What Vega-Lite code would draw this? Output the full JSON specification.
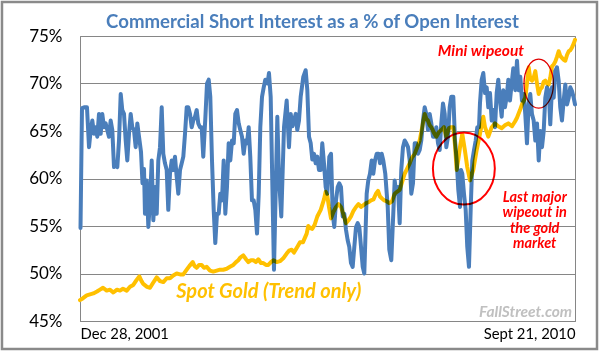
{
"$schema": "https://vega.github.io/schema/vega-lite/v6.json",
"width": 495, "height": 285,
"autosize": {"type": "none"},
"padding": {"left": 80, "top": 36, "right": 25, "bottom": 32},
"background": "white",
"config": {"view": {"stroke": "#868686", "strokeWidth": 1}, "font": "Lato"},
"datasets": {
"one": [{}],
"lines": [
{"series":"short","year":2001.999,"pct":54.8},{"series":"short","year":2002.025,"pct":67.4},{"series":"short","year":2002.073,"pct":67.5},{"series":"short","year":2002.113,"pct":67.5},{"series":"short","year":2002.149,"pct":63.3},{"series":"short","year":2002.179,"pct":65.1},{"series":"short","year":2002.207,"pct":66.1},{"series":"short","year":2002.237,"pct":64.7},{"series":"short","year":2002.267,"pct":65.4},{"series":"short","year":2002.295,"pct":64.4},{"series":"short","year":2002.325,"pct":66.8},{"series":"short","year":2002.355,"pct":64.7},{"series":"short","year":2002.383,"pct":66.8},{"series":"short","year":2002.413,"pct":65.4},{"series":"short","year":2002.443,"pct":65.8},{"series":"short","year":2002.471,"pct":65.1},{"series":"short","year":2002.501,"pct":64.4},{"series":"short","year":2002.531,"pct":66.1},{"series":"short","year":2002.56,"pct":65.1},{"series":"short","year":2002.59,"pct":61.2},{"series":"short","year":2002.62,"pct":61.6},{"series":"short","year":2002.648,"pct":61.2},{"series":"short","year":2002.678,"pct":64.0},{"series":"short","year":2002.708,"pct":68.9},{"series":"short","year":2002.736,"pct":67.2},{"series":"short","year":2002.766,"pct":66.8},{"series":"short","year":2002.796,"pct":64.0},{"series":"short","year":2002.824,"pct":61.9},{"series":"short","year":2002.854,"pct":64.7},{"series":"short","year":2002.884,"pct":66.8},{"series":"short","year":2002.912,"pct":65.4},{"series":"short","year":2002.942,"pct":65.1},{"series":"short","year":2002.972,"pct":63.3},{"series":"short","year":2003.001,"pct":65.8},{"series":"short","year":2003.031,"pct":64.4},{"series":"short","year":2003.066,"pct":62.8},{"series":"short","year":2003.092,"pct":59.5},{"series":"short","year":2003.119,"pct":61.0},{"series":"short","year":2003.136,"pct":56.3},{"series":"short","year":2003.166,"pct":59.8},{"series":"short","year":2003.195,"pct":54.9},{"series":"short","year":2003.225,"pct":57.7},{"series":"short","year":2003.255,"pct":61.9},{"series":"short","year":2003.283,"pct":55.6},{"series":"short","year":2003.313,"pct":59.1},{"series":"short","year":2003.343,"pct":56.3},{"series":"short","year":2003.371,"pct":61.9},{"series":"short","year":2003.401,"pct":63.3},{"series":"short","year":2003.431,"pct":67.5},{"series":"short","year":2003.459,"pct":62.6},{"series":"short","year":2003.489,"pct":61.6},{"series":"short","year":2003.519,"pct":60.9},{"series":"short","year":2003.547,"pct":56.7},{"series":"short","year":2003.577,"pct":60.5},{"series":"short","year":2003.607,"pct":61.9},{"series":"short","year":2003.635,"pct":60.9},{"series":"short","year":2003.665,"pct":62.3},{"series":"short","year":2003.695,"pct":60.2},{"series":"short","year":2003.724,"pct":58.4},{"series":"short","year":2003.754,"pct":60.9},{"series":"short","year":2003.784,"pct":61.6},{"series":"short","year":2003.812,"pct":62.3},{"series":"short","year":2003.842,"pct":64.7},{"series":"short","year":2003.872,"pct":67.5},{"series":"short","year":2003.9,"pct":67.5},{"series":"short","year":2003.93,"pct":66.8},{"series":"short","year":2003.96,"pct":65.4},{"series":"short","year":2003.988,"pct":66.1},{"series":"short","year":2004.018,"pct":66.5},{"series":"short","year":2004.048,"pct":67.2},{"series":"short","year":2004.076,"pct":65.8},{"series":"short","year":2004.106,"pct":65.4},{"series":"short","year":2004.136,"pct":65.4},{"series":"short","year":2004.164,"pct":62.3},{"series":"short","year":2004.2,"pct":66.3},{"series":"short","year":2004.23,"pct":70.0},{"series":"short","year":2004.26,"pct":70.4},{"series":"short","year":2004.288,"pct":68.6},{"series":"short","year":2004.318,"pct":61.9},{"series":"short","year":2004.348,"pct":56.7},{"series":"short","year":2004.376,"pct":53.2},{"series":"short","year":2004.406,"pct":56.3},{"series":"short","year":2004.436,"pct":56.3},{"series":"short","year":2004.464,"pct":58.4},{"series":"short","year":2004.494,"pct":57.7},{"series":"short","year":2004.524,"pct":61.9},{"series":"short","year":2004.553,"pct":56.3},{"series":"short","year":2004.582,"pct":59.1},{"series":"short","year":2004.612,"pct":63.7},{"series":"short","year":2004.641,"pct":61.9},{"series":"short","year":2004.671,"pct":64.0},{"series":"short","year":2004.701,"pct":63.7},{"series":"short","year":2004.729,"pct":66.8},{"series":"short","year":2004.759,"pct":67.2},{"series":"short","year":2004.789,"pct":65.8},{"series":"short","year":2004.817,"pct":65.1},{"series":"short","year":2004.847,"pct":64.4},{"series":"short","year":2004.877,"pct":62.6},{"series":"short","year":2004.905,"pct":64.0},{"series":"short","year":2004.935,"pct":63.7},{"series":"short","year":2004.965,"pct":65.4},{"series":"short","year":2004.993,"pct":62.3},{"series":"short","year":2005.023,"pct":57.7},{"series":"short","year":2005.053,"pct":57.7},{"series":"short","year":2005.082,"pct":56.7},{"series":"short","year":2005.112,"pct":54.2},{"series":"short","year":2005.142,"pct":58.4},{"series":"short","year":2005.17,"pct":65.4},{"series":"short","year":2005.2,"pct":68.6},{"series":"short","year":2005.23,"pct":69.6},{"series":"short","year":2005.258,"pct":70.4},{"series":"short","year":2005.297,"pct":70.0},{"series":"short","year":2005.323,"pct":71.1},{"series":"short","year":2005.353,"pct":68.6},{"series":"short","year":2005.411,"pct":50.4},{"series":"short","year":2005.47,"pct":66.5},{"series":"short","year":2005.5,"pct":60.0},{"series":"short","year":2005.54,"pct":56.0},{"series":"short","year":2005.588,"pct":65.4},{"series":"short","year":2005.635,"pct":68.2},{"series":"short","year":2005.676,"pct":63.3},{"series":"short","year":2005.706,"pct":66.8},{"series":"short","year":2005.738,"pct":65.5},{"series":"short","year":2005.794,"pct":66.8},{"series":"short","year":2005.822,"pct":65.1},{"series":"short","year":2005.852,"pct":66.1},{"series":"short","year":2005.882,"pct":68.6},{"series":"short","year":2005.928,"pct":70.7},{"series":"short","year":2005.97,"pct":71.4},{"series":"short","year":2005.999,"pct":69.3},{"series":"short","year":2006.029,"pct":64.4},{"series":"short","year":2006.059,"pct":63.7},{"series":"short","year":2006.087,"pct":62.0},{"series":"short","year":2006.117,"pct":62.6},{"series":"short","year":2006.147,"pct":61.6},{"series":"short","year":2006.175,"pct":62.3},{"series":"short","year":2006.205,"pct":60.9},{"series":"short","year":2006.235,"pct":60.9},{"series":"short","year":2006.263,"pct":63.7},{"series":"short","year":2006.293,"pct":61.6},{"series":"short","year":2006.323,"pct":59.1},{"series":"short","year":2006.351,"pct":58.4},{"series":"short","year":2006.387,"pct":62.3},{"series":"short","year":2006.417,"pct":62.6},{"series":"short","year":2006.447,"pct":56.3},{"series":"short","year":2006.475,"pct":54.9},{"series":"short","year":2006.505,"pct":57.7},{"series":"short","year":2006.535,"pct":59.1},{"series":"short","year":2006.563,"pct":59.5},{"series":"short","year":2006.593,"pct":59.1},{"series":"short","year":2006.623,"pct":56.0},{"series":"short","year":2006.651,"pct":56.3},{"series":"short","year":2006.681,"pct":54.6},{"series":"short","year":2006.711,"pct":53.5},{"series":"short","year":2006.739,"pct":52.8},{"series":"short","year":2006.769,"pct":51.1},{"series":"short","year":2006.799,"pct":50.7},{"series":"short","year":2006.828,"pct":52.8},{"series":"short","year":2006.858,"pct":54.9},{"series":"short","year":2006.888,"pct":55.3},{"series":"short","year":2006.916,"pct":54.9},{"series":"short","year":2006.946,"pct":52.8},{"series":"short","year":2006.976,"pct":50.7},{"series":"short","year":2007.004,"pct":50.0},{"series":"short","year":2007.022,"pct":53.5},{"series":"short","year":2007.046,"pct":58.4},{"series":"short","year":2007.074,"pct":59.8},{"series":"short","year":2007.104,"pct":60.5},{"series":"short","year":2007.134,"pct":61.9},{"series":"short","year":2007.163,"pct":60.5},{"series":"short","year":2007.193,"pct":61.9},{"series":"short","year":2007.223,"pct":62.6},{"series":"short","year":2007.258,"pct":62.6},{"series":"short","year":2007.281,"pct":61.6},{"series":"short","year":2007.311,"pct":62.6},{"series":"short","year":2007.339,"pct":61.9},{"series":"short","year":2007.374,"pct":60.5},{"series":"short","year":2007.417,"pct":57.0},{"series":"short","year":2007.445,"pct":52.5},{"series":"short","year":2007.48,"pct":51.4},{"series":"short","year":2007.51,"pct":55.6},{"series":"short","year":2007.54,"pct":59.8},{"series":"short","year":2007.568,"pct":58.4},{"series":"short","year":2007.598,"pct":59.1},{"series":"short","year":2007.628,"pct":55.3},{"series":"short","year":2007.656,"pct":60.9},{"series":"short","year":2007.686,"pct":63.3},{"series":"short","year":2007.716,"pct":64.0},{"series":"short","year":2007.745,"pct":63.7},{"series":"short","year":2007.775,"pct":63.3},{"series":"short","year":2007.805,"pct":61.9},{"series":"short","year":2007.833,"pct":58.4},{"series":"short","year":2007.863,"pct":59.5},{"series":"short","year":2007.893,"pct":63.7},{"series":"short","year":2007.921,"pct":63.7},{"series":"short","year":2007.951,"pct":62.6},{"series":"short","year":2007.981,"pct":63.0},{"series":"short","year":2008.009,"pct":64.0},{"series":"short","year":2008.039,"pct":66.1},{"series":"short","year":2008.069,"pct":67.5},{"series":"short","year":2008.097,"pct":66.8},{"series":"short","year":2008.127,"pct":65.1},{"series":"short","year":2008.157,"pct":66.8},{"series":"short","year":2008.186,"pct":65.8},{"series":"short","year":2008.216,"pct":64.4},{"series":"short","year":2008.246,"pct":64.4},{"series":"short","year":2008.274,"pct":65.4},{"series":"short","year":2008.304,"pct":63.7},{"series":"short","year":2008.334,"pct":63.0},{"series":"short","year":2008.362,"pct":65.8},{"series":"short","year":2008.392,"pct":67.9},{"series":"short","year":2008.422,"pct":66.8},{"series":"short","year":2008.45,"pct":63.3},{"series":"short","year":2008.48,"pct":64.4},{"series":"short","year":2008.51,"pct":67.5},{"series":"short","year":2008.538,"pct":68.6},{"series":"short","year":2008.574,"pct":68.6},{"series":"short","year":2008.604,"pct":64.0},{"series":"short","year":2008.633,"pct":61.9},{"series":"short","year":2008.662,"pct":58.8},{"series":"short","year":2008.692,"pct":57.0},{"series":"short","year":2008.709,"pct":60.9},{"series":"short","year":2008.732,"pct":60.5},{"series":"short","year":2008.762,"pct":58.4},{"series":"short","year":2008.792,"pct":56.7},{"series":"short","year":2008.82,"pct":52.8},{"series":"short","year":2008.85,"pct":50.7},{"series":"short","year":2008.88,"pct":56.7},{"series":"short","year":2008.909,"pct":61.9},{"series":"short","year":2008.939,"pct":63.0},{"series":"short","year":2008.969,"pct":64.0},{"series":"short","year":2008.997,"pct":65.4},{"series":"short","year":2009.027,"pct":65.4},{"series":"short","year":2009.044,"pct":67.9},{"series":"short","year":2009.074,"pct":70.4},{"series":"short","year":2009.103,"pct":71.1},{"series":"short","year":2009.133,"pct":69.0},{"series":"short","year":2009.163,"pct":69.6},{"series":"short","year":2009.191,"pct":67.5},{"series":"short","year":2009.221,"pct":69.0},{"series":"short","year":2009.251,"pct":66.1},{"series":"short","year":2009.279,"pct":67.2},{"series":"short","year":2009.309,"pct":65.4},{"series":"short","year":2009.339,"pct":69.0},{"series":"short","year":2009.367,"pct":70.4},{"series":"short","year":2009.397,"pct":68.2},{"series":"short","year":2009.427,"pct":66.5},{"series":"short","year":2009.455,"pct":69.3},{"series":"short","year":2009.485,"pct":67.5},{"series":"short","year":2009.515,"pct":68.6},{"series":"short","year":2009.544,"pct":70.4},{"series":"short","year":2009.573,"pct":68.2},{"series":"short","year":2009.603,"pct":70.0},{"series":"short","year":2009.632,"pct":71.6},{"series":"short","year":2009.667,"pct":69.3},{"series":"short","year":2009.697,"pct":72.4},{"series":"short","year":2009.727,"pct":69.3},{"series":"short","year":2009.755,"pct":70.7},{"series":"short","year":2009.785,"pct":68.2},{"series":"short","year":2009.815,"pct":68.9},{"series":"short","year":2009.843,"pct":66.8},{"series":"short","year":2009.873,"pct":63.7},{"series":"short","year":2009.903,"pct":67.9},{"series":"short","year":2009.931,"pct":68.9},{"series":"short","year":2009.961,"pct":66.8},{"series":"short","year":2009.991,"pct":66.1},{"series":"short","year":2010.02,"pct":64.0},{"series":"short","year":2010.05,"pct":65.8},{"series":"short","year":2010.08,"pct":61.9},{"series":"short","year":2010.108,"pct":65.0},{"series":"short","year":2010.138,"pct":63.3},{"series":"short","year":2010.168,"pct":65.0},{"series":"short","year":2010.196,"pct":68.5},{"series":"short","year":2010.226,"pct":69.6},{"series":"short","year":2010.256,"pct":69.2},{"series":"short","year":2010.284,"pct":65.7},{"series":"short","year":2010.314,"pct":69.6},{"series":"short","year":2010.344,"pct":68.5},{"series":"short","year":2010.372,"pct":71.3},{"series":"short","year":2010.402,"pct":71.7},{"series":"short","year":2010.432,"pct":70.3},{"series":"short","year":2010.46,"pct":67.5},{"series":"short","year":2010.49,"pct":66.1},{"series":"short","year":2010.52,"pct":68.2},{"series":"short","year":2010.549,"pct":69.9},{"series":"short","year":2010.579,"pct":67.8},{"series":"short","year":2010.609,"pct":68.5},{"series":"short","year":2010.637,"pct":69.6},{"series":"short","year":2010.667,"pct":69.2},{"series":"short","year":2010.697,"pct":68.5},{"series":"short","year":2010.72,"pct":67.8},
{"series":"gold","year":2001.99,"pct":47.2},{"series":"gold","year":2002.043,"pct":47.4},{"series":"gold","year":2002.108,"pct":47.7},{"series":"gold","year":2002.166,"pct":47.8},{"series":"gold","year":2002.225,"pct":47.9},{"series":"gold","year":2002.29,"pct":48.1},{"series":"gold","year":2002.343,"pct":48.3},{"series":"gold","year":2002.396,"pct":48.5},{"series":"gold","year":2002.461,"pct":48.2},{"series":"gold","year":2002.519,"pct":48.3},{"series":"gold","year":2002.577,"pct":48.0},{"series":"gold","year":2002.643,"pct":48.3},{"series":"gold","year":2002.695,"pct":48.2},{"series":"gold","year":2002.748,"pct":48.4},{"series":"gold","year":2002.814,"pct":48.2},{"series":"gold","year":2002.872,"pct":48.6},{"series":"gold","year":2002.93,"pct":48.8},{"series":"gold","year":2002.986,"pct":49.3},{"series":"gold","year":2003.036,"pct":49.7},{"series":"gold","year":2003.075,"pct":49.2},{"series":"gold","year":2003.106,"pct":48.9},{"series":"gold","year":2003.172,"pct":48.6},{"series":"gold","year":2003.225,"pct":48.5},{"series":"gold","year":2003.277,"pct":49.0},{"series":"gold","year":2003.343,"pct":49.6},{"series":"gold","year":2003.401,"pct":49.2},{"series":"gold","year":2003.459,"pct":49.1},{"series":"gold","year":2003.519,"pct":49.5},{"series":"gold","year":2003.577,"pct":49.5},{"series":"gold","year":2003.635,"pct":49.8},{"series":"gold","year":2003.695,"pct":50.0},{"series":"gold","year":2003.754,"pct":49.9},{"series":"gold","year":2003.812,"pct":49.9},{"series":"gold","year":2003.872,"pct":50.4},{"series":"gold","year":2003.921,"pct":50.8},{"series":"gold","year":2003.978,"pct":51.2},{"series":"gold","year":2004.009,"pct":50.8},{"series":"gold","year":2004.048,"pct":50.6},{"series":"gold","year":2004.089,"pct":50.9},{"series":"gold","year":2004.136,"pct":50.9},{"series":"gold","year":2004.177,"pct":50.6},{"series":"gold","year":2004.224,"pct":50.7},{"series":"gold","year":2004.283,"pct":50.3},{"series":"gold","year":2004.341,"pct":50.2},{"series":"gold","year":2004.401,"pct":50.3},{"series":"gold","year":2004.459,"pct":50.4},{"series":"gold","year":2004.517,"pct":50.4},{"series":"gold","year":2004.577,"pct":50.5},{"series":"gold","year":2004.635,"pct":50.7},{"series":"gold","year":2004.694,"pct":50.9},{"series":"gold","year":2004.741,"pct":51.2},{"series":"gold","year":2004.782,"pct":51.4},{"series":"gold","year":2004.821,"pct":51.7},{"series":"gold","year":2004.87,"pct":51.9},{"series":"gold","year":2004.918,"pct":51.5},{"series":"gold","year":2004.958,"pct":51.2},{"series":"gold","year":2005.006,"pct":51.4},{"series":"gold","year":2005.046,"pct":51.4},{"series":"gold","year":2005.094,"pct":51.2},{"series":"gold","year":2005.135,"pct":51.5},{"series":"gold","year":2005.182,"pct":51.1},{"series":"gold","year":2005.223,"pct":51.1},{"series":"gold","year":2005.27,"pct":50.9},{"series":"gold","year":2005.311,"pct":50.9},{"series":"gold","year":2005.358,"pct":51.2},{"series":"gold","year":2005.399,"pct":51.4},{"series":"gold","year":2005.459,"pct":51.2},{"series":"gold","year":2005.517,"pct":51.3},{"series":"gold","year":2005.575,"pct":51.6},{"series":"gold","year":2005.635,"pct":52.1},{"series":"gold","year":2005.676,"pct":52.4},{"series":"gold","year":2005.724,"pct":52.5},{"series":"gold","year":2005.764,"pct":52.2},{"series":"gold","year":2005.822,"pct":52.8},{"series":"gold","year":2005.87,"pct":53.3},{"series":"gold","year":2005.923,"pct":53.3},{"series":"gold","year":2005.988,"pct":54.2},{"series":"gold","year":2006.016,"pct":55.0},{"series":"gold","year":2006.046,"pct":54.8},{"series":"gold","year":2006.087,"pct":54.7},{"series":"gold","year":2006.126,"pct":55.1},{"series":"gold","year":2006.175,"pct":56.0},{"series":"gold","year":2006.235,"pct":56.7},{"series":"gold","year":2006.267,"pct":57.3},{"series":"gold","year":2006.293,"pct":57.8},{"series":"gold","year":2006.323,"pct":58.6},{"series":"gold","year":2006.351,"pct":58.2},{"series":"gold","year":2006.381,"pct":57.0},{"series":"gold","year":2006.417,"pct":55.8},{"series":"gold","year":2006.461,"pct":56.5},{"series":"gold","year":2006.505,"pct":57.0},{"series":"gold","year":2006.549,"pct":57.3},{"series":"gold","year":2006.593,"pct":57.0},{"series":"gold","year":2006.637,"pct":56.2},{"series":"gold","year":2006.681,"pct":55.3},{"series":"gold","year":2006.725,"pct":55.6},{"series":"gold","year":2006.769,"pct":56.0},{"series":"gold","year":2006.813,"pct":56.6},{"series":"gold","year":2006.858,"pct":57.0},{"series":"gold","year":2006.902,"pct":57.3},{"series":"gold","year":2006.946,"pct":57.0},{"series":"gold","year":2006.99,"pct":57.2},{"series":"gold","year":2007.034,"pct":57.4},{"series":"gold","year":2007.078,"pct":57.5},{"series":"gold","year":2007.122,"pct":57.7},{"series":"gold","year":2007.166,"pct":57.8},{"series":"gold","year":2007.21,"pct":58.4},{"series":"gold","year":2007.246,"pct":58.7},{"series":"gold","year":2007.281,"pct":58.1},{"series":"gold","year":2007.316,"pct":57.9},{"series":"gold","year":2007.357,"pct":57.7},{"series":"gold","year":2007.401,"pct":57.6},{"series":"gold","year":2007.445,"pct":57.4},{"series":"gold","year":2007.492,"pct":57.6},{"series":"gold","year":2007.54,"pct":58.4},{"series":"gold","year":2007.581,"pct":58.6},{"series":"gold","year":2007.628,"pct":58.8},{"series":"gold","year":2007.669,"pct":59.6},{"series":"gold","year":2007.716,"pct":60.5},{"series":"gold","year":2007.757,"pct":61.0},{"series":"gold","year":2007.805,"pct":61.6},{"series":"gold","year":2007.845,"pct":62.2},{"series":"gold","year":2007.893,"pct":62.6},{"series":"gold","year":2007.933,"pct":63.2},{"series":"gold","year":2007.981,"pct":64.0},{"series":"gold","year":2008.022,"pct":65.3},{"series":"gold","year":2008.069,"pct":66.8},{"series":"gold","year":2008.097,"pct":66.3},{"series":"gold","year":2008.127,"pct":66.1},{"series":"gold","year":2008.157,"pct":65.6},{"series":"gold","year":2008.186,"pct":65.4},{"series":"gold","year":2008.233,"pct":64.8},{"series":"gold","year":2008.274,"pct":64.4},{"series":"gold","year":2008.321,"pct":64.9},{"series":"gold","year":2008.362,"pct":65.1},{"series":"gold","year":2008.409,"pct":65.4},{"series":"gold","year":2008.45,"pct":64.4},{"series":"gold","year":2008.498,"pct":65.3},{"series":"gold","year":2008.538,"pct":65.4},{"series":"gold","year":2008.574,"pct":65.4},{"series":"gold","year":2008.604,"pct":63.5},{"series":"gold","year":2008.633,"pct":60.9},{"series":"gold","year":2008.662,"pct":62.0},{"series":"gold","year":2008.692,"pct":63.3},{"series":"gold","year":2008.732,"pct":64.7},{"series":"gold","year":2008.78,"pct":62.9},{"series":"gold","year":2008.82,"pct":61.2},{"series":"gold","year":2008.868,"pct":59.8},{"series":"gold","year":2008.926,"pct":60.9},{"series":"gold","year":2008.986,"pct":63.0},{"series":"gold","year":2009.044,"pct":64.7},{"series":"gold","year":2009.103,"pct":66.5},{"series":"gold","year":2009.133,"pct":65.4},{"series":"gold","year":2009.191,"pct":64.4},{"series":"gold","year":2009.251,"pct":65.4},{"series":"gold","year":2009.309,"pct":65.8},{"series":"gold","year":2009.367,"pct":65.5},{"series":"gold","year":2009.427,"pct":65.3},{"series":"gold","year":2009.485,"pct":65.6},{"series":"gold","year":2009.544,"pct":65.8},{"series":"gold","year":2009.609,"pct":65.5},{"series":"gold","year":2009.662,"pct":66.0},{"series":"gold","year":2009.697,"pct":66.4},{"series":"gold","year":2009.75,"pct":67.2},{"series":"gold","year":2009.785,"pct":67.8},{"series":"gold","year":2009.843,"pct":68.5},{"series":"gold","year":2009.873,"pct":70.0},{"series":"gold","year":2009.903,"pct":71.7},{"series":"gold","year":2009.931,"pct":70.5},{"series":"gold","year":2009.961,"pct":70.3},{"series":"gold","year":2009.991,"pct":70.6},{"series":"gold","year":2010.02,"pct":71.3},{"series":"gold","year":2010.05,"pct":70.0},{"series":"gold","year":2010.08,"pct":68.9},{"series":"gold","year":2010.108,"pct":69.4},{"series":"gold","year":2010.138,"pct":69.6},{"series":"gold","year":2010.168,"pct":70.2},{"series":"gold","year":2010.196,"pct":70.3},{"series":"gold","year":2010.226,"pct":70.0},{"series":"gold","year":2010.256,"pct":69.9},{"series":"gold","year":2010.284,"pct":70.6},{"series":"gold","year":2010.314,"pct":71.8},{"series":"gold","year":2010.344,"pct":72.0},{"series":"gold","year":2010.372,"pct":72.3},{"series":"gold","year":2010.402,"pct":72.8},{"series":"gold","year":2010.432,"pct":73.4},{"series":"gold","year":2010.46,"pct":72.9},{"series":"gold","year":2010.49,"pct":72.7},{"series":"gold","year":2010.52,"pct":72.5},{"series":"gold","year":2010.549,"pct":72.4},{"series":"gold","year":2010.579,"pct":73.0},{"series":"gold","year":2010.609,"pct":73.4},{"series":"gold","year":2010.637,"pct":73.5},{"series":"gold","year":2010.667,"pct":73.8},{"series":"gold","year":2010.697,"pct":74.2},{"series":"gold","year":2010.72,"pct":74.6}
]
},
"layer": [
{
"data": {"name": "lines"},
"mark": {"type": "line", "color": "white", "strokeWidth": 4, "strokeJoin": "round", "strokeCap": "round"},
"encoding": {
"x": {"field": "year", "type": "quantitative", "scale": {"domain": [2001.99, 2010.72], "nice": false, "zero": false},
"axis": {"title": null, "values": [2001.99, 2010.72], "labelExpr": "datum.value < 2005 ? 'Dec 28, 2001' : 'Sept 21, 2010'", "labelFlush": true, "ticks": false, "grid": false, "domainColor": "#868686", "labelFont": "Lato", "labelFontSize": 14.8, "labelColor": "#000000", "labelPadding": 5}},
"y": {"field": "pct", "type": "quantitative", "scale": {"domain": [45, 75], "nice": false, "zero": false},
"axis": {"title": null, "values": [45, 50, 55, 60, 65, 70, 75], "labelExpr": "datum.value + '%'", "ticks": false, "grid": true, "gridColor": "#868686", "gridOpacity": 1, "domainColor": "#868686", "labelFont": "Lato", "labelFontSize": 17, "labelColor": "#000000", "labelPadding": 18}},
"detail": {"field": "series"}
}
},
{
"data": {"name": "lines"},
"mark": {"type": "line", "strokeWidth": 4, "strokeJoin": "round", "strokeCap": "round", "blend": "multiply"},
"encoding": {
"x": {"field": "year", "type": "quantitative"},
"y": {"field": "pct", "type": "quantitative"},
"color": {"field": "series", "type": "nominal", "scale": {"domain": ["short", "gold"], "range": ["#4a7ebb", "#ffc000"]}, "legend": null}
}
},
{
"data": {"name": "one"},
"mark": {"type": "point", "shape": "M0.86,0C0.86,0.552 0.475,1 0,1C-0.475,1 -0.86,0.552 -0.86,0C-0.86,-0.552 -0.475,-1 0,-1C0.475,-1 0.86,-0.552 0.86,0Z", "size": 5184, "filled": false, "stroke": "#ff0000", "strokeWidth": 2, "opacity": 1, "blend": "multiply"},
"encoding": {"x": {"datum": 2008.76, "type": "quantitative"}, "y": {"datum": 61.04, "type": "quantitative"}}
},
{
"data": {"name": "one"},
"mark": {"type": "point", "shape": "M0.6,0C0.6,0.552 0.331,1 0,1C-0.331,1 -0.6,0.552 -0.6,0C-0.6,-0.552 -0.331,-1 0,-1C0.331,-1 0.6,-0.552 0.6,0Z", "size": 2401, "filled": false, "stroke": "#e00000", "strokeWidth": 1.3, "opacity": 1, "blend": "multiply"},
"encoding": {"x": {"datum": 2010.08, "type": "quantitative"}, "y": {"datum": 69.98, "type": "quantitative"}}
},
{
"data": {"name": "one"},
"mark": {"type": "text", "text": "Commercial Short Interest as a % of Open Interest", "font": "Lato", "fontSize": 18.6, "fontWeight": "bold", "color": "#4a7ebb", "align": "center", "baseline": "alphabetic"},
"encoding": {"x": {"datum": 2006.09, "type": "quantitative"}, "y": {"datum": 75.84, "type": "quantitative"}}
},
{
"data": {"name": "one"},
"mark": {"type": "text", "text": "Mini wipeout", "font": "Lato", "fontSize": 15.5, "fontWeight": "bold", "fontStyle": "italic", "color": "#ff0000", "align": "center", "baseline": "middle"},
"encoding": {"x": {"datum": 2009.06, "type": "quantitative"}, "y": {"datum": 73.43, "type": "quantitative"}}
},
{
"data": {"name": "one"},
"mark": {"type": "text", "text": "Last major\nwipeout in\nthe gold\nmarket", "lineBreak": "\n", "lineHeight": 15.5, "font": "Lato", "fontSize": 14.5, "fontWeight": "bold", "fontStyle": "italic", "color": "#ff0000", "align": "center", "baseline": "top"},
"encoding": {"x": {"datum": 2010.01, "type": "quantitative"}, "y": {"datum": 58.7, "type": "quantitative"}}
},
{
"data": {"name": "one"},
"mark": {"type": "text", "text": "Spot Gold (Trend only)", "font": "Lato", "fontSize": 20, "fontWeight": "bold", "fontStyle": "italic", "color": "#ffc000", "align": "center", "baseline": "middle"},
"encoding": {"x": {"datum": 2005.32, "type": "quantitative"}, "y": {"datum": 48.03, "type": "quantitative"}}
},
{
"data": {"name": "one"},
"mark": {"type": "text", "text": "FallStreet.com", "font": "Lato", "fontSize": 15.5, "fontWeight": "bold", "fontStyle": "italic", "color": "#c0c0c0", "align": "right", "baseline": "middle"},
"encoding": {"x": {"datum": 2010.67, "type": "quantitative"}, "y": {"datum": 45.93, "type": "quantitative"}}
},
{
"data": {"name": "one"},
"mark": {"type": "rect", "filled": false, "stroke": "#8a8a8a", "strokeWidth": 2.5},
"encoding": {"x": {"datum": 2000.614, "type": "quantitative"}, "x2": {"datum": 2011.108}, "y": {"datum": 78.57, "type": "quantitative"}, "y2": {"datum": 42.05}}
}
]
}
